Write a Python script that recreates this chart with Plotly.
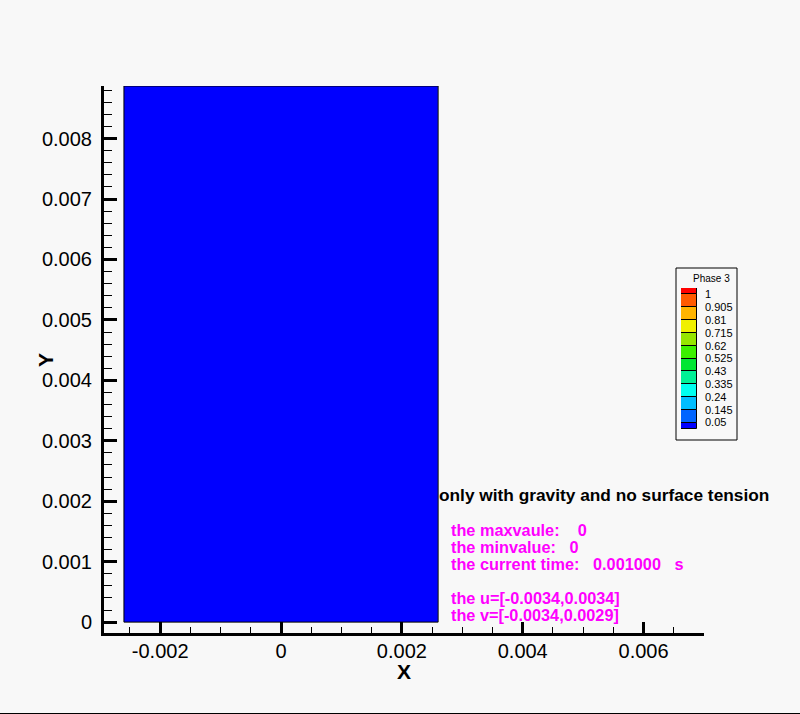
import plotly.graph_objects as go

# ---------------- data ----------------
# computational domain (phase field, all cells = 0)
domain_x = [-0.0026, 0.0026]
domain_y = [0.0, 0.00887]
phase_values = [[0.0]]

# axis ticks
x_tickvals = [-0.002, 0.0, 0.002, 0.004, 0.006]
x_ticktext = ["-0.002", "0", "0.002", "0.004", "0.006"]
y_tickvals = [0.0, 0.001, 0.002, 0.003, 0.004, 0.005, 0.006, 0.007, 0.008]
y_ticktext = ["0", "0.001", "0.002", "0.003", "0.004", "0.005", "0.006", "0.007", "0.008"]
x_range = [-0.00293, 0.0070]
y_range = [-0.00018, 0.00887]

# contour legend (Phase 3)
levels = [0.05, 0.145, 0.24, 0.335, 0.43, 0.525, 0.62, 0.715, 0.81, 0.905, 1.0]
level_labels = ["0.05", "0.145", "0.24", "0.335", "0.43", "0.525", "0.62",
                "0.715", "0.81", "0.905", "1"]
band_colors = ["#0000ff", "#0064ff", "#00beff", "#00fff0", "#00f096", "#00e632",
               "#3cf000", "#96e600", "#f0f000", "#ffb400", "#ff5a00", "#ff0000"]
legend_lo = 0.0025
legend_hi = 1.0475

# info text
title_text = "only with gravity and no surface tension"
info_lines = [
    "the maxvaule:\u00a0\u00a0\u00a0 0",
    "the minvalue:\u00a0\u00a0 0",
    "the current time:\u00a0\u00a0 0.001000\u00a0\u00a0 s",
    "the u=[-0.0034,0.0034]",
    "the v=[-0.0034,0.0029]",
]

# ---------------- figure ----------------
W, H = 800, 714
ml, mr, mt, mb = 104, 96, 86, 81
pw, ph = W - ml - mr, H - mt - mb


def px_x(p):
    return (p - ml) / pw


def px_y(p):
    return (H - mb - p) / ph


bounds = [legend_lo] + levels + [legend_hi]
zmax = legend_hi
cscale = []
for i, c in enumerate(band_colors):
    cscale.append([bounds[i] / zmax if i > 0 else 0.0, c])
    cscale.append([bounds[i + 1] / zmax, c])

fig = go.Figure()

fig.add_trace(go.Heatmap(
    x=domain_x, y=domain_y, z=phase_values,
    zmin=0, zmax=zmax, colorscale=cscale, showscale=False,
    hoverinfo="skip",
))
fig.add_trace(go.Scatter(
    x=[domain_x[0], domain_x[0], domain_x[1], domain_x[1], domain_x[0]],
    y=[domain_y[1], domain_y[0], domain_y[0], domain_y[1], domain_y[1]],
    mode="lines", line=dict(color="black", width=1),
    showlegend=False, hoverinfo="skip",
))

# legend bands as stacked bars on a small secondary axis
bases = bounds[:-1]
heights = [bounds[i + 1] - bounds[i] for i in range(len(band_colors))]
fig.add_trace(go.Bar(
    x=[0] * len(heights), y=heights, base=bases, width=[1] * len(heights),
    marker=dict(color=band_colors, line=dict(color="black", width=1)),
    xaxis="x2", yaxis="y2", showlegend=False, hoverinfo="skip",
))

tick_font = dict(family="Liberation Sans, Arial, sans-serif", size=20, color="black")

fig.update_layout(
    width=W, height=H,
    margin=dict(l=ml, r=mr, t=mt, b=mb, pad=0),
    paper_bgcolor="#f8f8f8", plot_bgcolor="#f8f8f8",
    showlegend=False, bargap=0,
    xaxis=dict(
        range=x_range, showgrid=False, zeroline=False,
        showline=True, linecolor="black", linewidth=3,
        ticks="inside", ticklen=11, tickwidth=3, tickcolor="black",
        tickvals=x_tickvals, ticktext=x_ticktext, tickfont=tick_font,
        ticklabelstandoff=-2,
        minor=dict(ticks="inside", ticklen=6, tickwidth=1, tickcolor="black",
                   dtick=0.0005, tick0=0, showgrid=False),
    ),
    yaxis=dict(
        range=y_range, showgrid=False, zeroline=False,
        showline=True, linecolor="black", linewidth=3,
        ticks="inside", ticklen=13, tickwidth=3, tickcolor="black",
        tickvals=y_tickvals, ticktext=y_ticktext, tickfont=tick_font,
        ticklabelstandoff=5,
        minor=dict(ticks="inside", ticklen=8, tickwidth=1, tickcolor="black",
                   dtick=0.0002, tick0=0, showgrid=False),
    ),
    xaxis2=dict(domain=[px_x(681), px_x(697)], range=[-0.5, 0.5], anchor="y2",
                visible=False, fixedrange=True),
    yaxis2=dict(domain=[px_y(429), px_y(288)], range=[legend_lo, legend_hi],
                anchor="x2", side="right", showgrid=False, zeroline=False,
                showline=False, ticks="", tickvals=levels, ticktext=level_labels,
                tickfont=dict(family="Liberation Sans, Arial, sans-serif",
                              size=11, color="black"),
                ticklabelstandoff=7),
)

# legend frame and bottom rule
fig.add_shape(type="rect", xref="paper", yref="paper",
              x0=px_x(676), x1=px_x(737), y0=px_y(440), y1=px_y(268),
              line=dict(color="black", width=1), fillcolor="rgba(0,0,0,0)", layer="below")
fig.add_shape(type="line", xref="paper", yref="paper",
              x0=px_x(0), x1=px_x(800), y0=px_y(713.5), y1=px_y(713.5),
              line=dict(color="black", width=1))

fig.add_annotation(text="Phase 3", xref="paper", yref="paper",
                   x=px_x(711), y=px_y(278), xanchor="center", yanchor="middle",
                   showarrow=False,
                   font=dict(family="Liberation Sans, Arial, sans-serif", size=10, color="black"))

# axis titles
fig.add_annotation(text="X", xref="paper", yref="paper", x=0.5, y=px_y(671),
                   xanchor="center", yanchor="middle", showarrow=False,
                   font=dict(family="Liberation Sans, Arial, sans-serif", size=21,
                             color="black", weight="bold"))
fig.add_annotation(text="Y", xref="paper", yref="paper", x=px_x(45), y=px_y(360),
                   xanchor="center", yanchor="middle", showarrow=False, textangle=-90,
                   font=dict(family="Liberation Sans, Arial, sans-serif", size=21,
                             color="black", weight="bold"))

# info texts
fig.add_annotation(text=title_text, xref="paper", yref="paper",
                   x=px_x(437), y=px_y(495), xanchor="left", yanchor="middle",
                   showarrow=False,
                   font=dict(family="Liberation Sans, Arial, sans-serif", size=17.3,
                             color="black", weight="bold"))
info_y = [529.5, 546.5, 563.5, 598, 615]
for txt, yy in zip(info_lines, info_y):
    fig.add_annotation(text=txt, xref="paper", yref="paper",
                       x=px_x(450), y=px_y(yy), xanchor="left", yanchor="middle",
                       showarrow=False, borderpad=0,
                       font=dict(family="Liberation Sans, Arial, sans-serif", size=16.3,
                                 color="#ff00ff", weight="bold"))

fig.write_html("out.html", config={"displayModeBar": False},
               post_script="document.body.style.margin='0';document.body.style.padding='0';")
